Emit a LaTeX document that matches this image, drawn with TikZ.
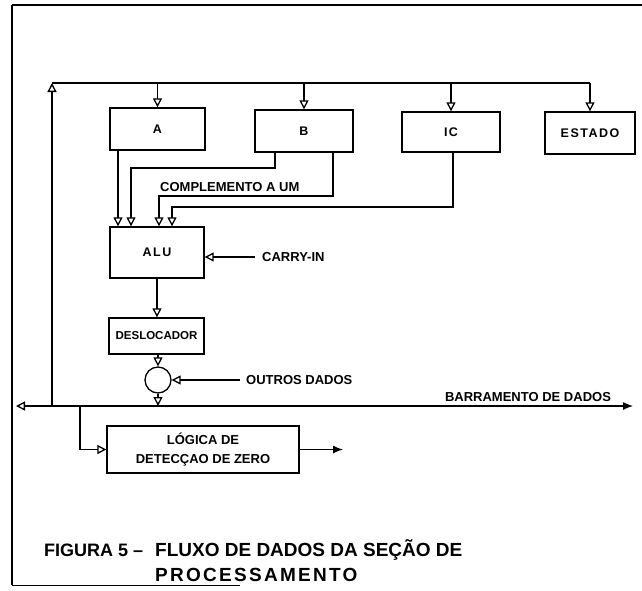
\documentclass[tikz,border=0pt]{standalone}
\usepackage{fontspec}
\setmainfont{Liberation Sans}
\newfontfamily\spacedfont[LetterSpace=12]{Liberation Sans}
\usetikzlibrary{arrows.meta,positioning}

\tikzset{
  blk/.style={draw,line width=1.4pt,minimum width=#1,minimum height=42pt,inner sep=0pt,
    font=\spacedfont\bfseries\fontsize{12.5}{14}\selectfont},
  blk/.default=95pt,
  lbl/.style={font=\bfseries\fontsize{13}{15}\selectfont,inner sep=1pt},
  captext/.style={font=\bfseries\fontsize{19}{22}\selectfont,inner sep=0pt},
  wire/.style={line width=1.3pt},
  tip/.style={wire,-{Triangle[open,length=9pt,width=9pt,line width=1.3pt]}},
  endtip/.style={wire,-{Latex[length=10pt,width=8pt]}},
}

\begin{document}
\begin{tikzpicture}[x=1pt,y=-1pt]
\useasboundingbox (0,0) rectangle (642,590);
% frame of the scanned page
\draw[line width=1.2pt] (12,5) -- (642,5);
\draw[line width=2.5pt] (12,5) -- (12,585);
\draw[line width=1pt] (12,585) -- (240,585);

% registers
\node[blk] (A) at (157.5,129) {A};
\node[blk=98pt] (B) at (304,131) {B};
\node[blk=98pt,minimum height=40pt] (IC) at (451,132) {IC};
\node[blk=90pt] (est) at (590,133) {ESTADO};

% ALU, shifter, mixer
\node[blk=94pt,minimum height=51pt] (alu) at (157,252.5) {ALU};
\node[blk=95pt,minimum height=36pt,font=\bfseries\fontsize{11.5}{13}\selectfont] (desl) at (156.5,336) {DESLOCADOR};
\node[draw,circle,wire,minimum size=26pt,inner sep=0pt] (mix) at (158,380) {};
\node[blk=192pt,minimum height=47pt,align=center,font=\bfseries\fontsize{13}{19}\selectfont] (zero) at (203,449.5) {LÓGICA DE\\DETECÇAO DE ZERO};

% bend points
\coordinate (busL) at (16,406);
\coordinate (busR) at (633,406);
\coordinate (jn) at (52,406);
\coordinate (tl) at (52,83);
\coordinate (jz) at (80,406);
\coordinate (in1) at (118,0);
\coordinate (in2) at (131,0);
\coordinate (in3) at (159,0);
\coordinate (in4) at (172,0);
\coordinate (bendB) at (275,168);
\coordinate (bendC) at (333,196);
\coordinate (bendIC) at (453,207);
\coordinate (cinS) at (255,257);
\coordinate (outS) at (240,380);
\coordinate (zout) at (343,449.5);

% top bus
\draw[tip] (jn) -- (tl);
\draw[wire] (tl) -- (tl -| est.north);
\foreach \n in {A,B,IC,est}
  \draw[tip] (tl -| \n.north) -- (\n.north);

% ALU inputs
\draw[tip] (A.south -| in1) -- (in1 |- alu.north);
\draw[tip] (B.south -| bendB) |- (in2 |- bendB) -- (in2 |- alu.north);
\draw[tip] (B.south -| bendC) |- (in3 |- bendC) -- (in3 |- alu.north);
\draw[tip] (IC.south -| bendIC) |- (in4 |- bendIC) -- (in4 |- alu.north);
\node[lbl,anchor=south west] (comp) at ([yshift=3pt]in3 |- bendC) {COMPLEMENTO A UM};

\node[lbl,anchor=west] (cin) at (261,257) {CARRY-IN};
\draw[tip] (cinS) -- (cinS -| alu.east);

% down to the data bus
\draw[tip] (alu.south) -- (alu.south |- desl.north);
\draw[tip] (desl.south -| mix) -- (mix.north);
\node[lbl,anchor=west] (outros) at (245,380) {OUTROS DADOS};
\draw[tip] (outS) -- (mix.east);
\draw[tip] (mix.south) -- (mix.south |- busL);

% data bus
\draw[wire,{Triangle[open,length=9pt,width=9pt,line width=1.3pt]}-{Latex[length=10pt,width=8pt]}] (busL) -- (busR);
\node[lbl,anchor=south] (busname) at (528,403) {BARRAMENTO DE DADOS};

% zero detect
\draw[tip] (jz) |- (zero.west);
\draw[endtip] (zero.east) -- (zout);

% caption
\node[captext,font=\bfseries\fontsize{18}{22}\selectfont,anchor=base west] (fig) at (44,556) {FIGURA 5 –};
\node[captext,anchor=base west] (cap1) at (155,556) {FLUXO DE DADOS DA SEÇÃO DE};
\node[captext,font=\spacedfont\bfseries\fontsize{19}{22}\selectfont,anchor=base west] (cap2) at (155,581) {PROCESSAMENTO};
\end{tikzpicture}
\end{document}
